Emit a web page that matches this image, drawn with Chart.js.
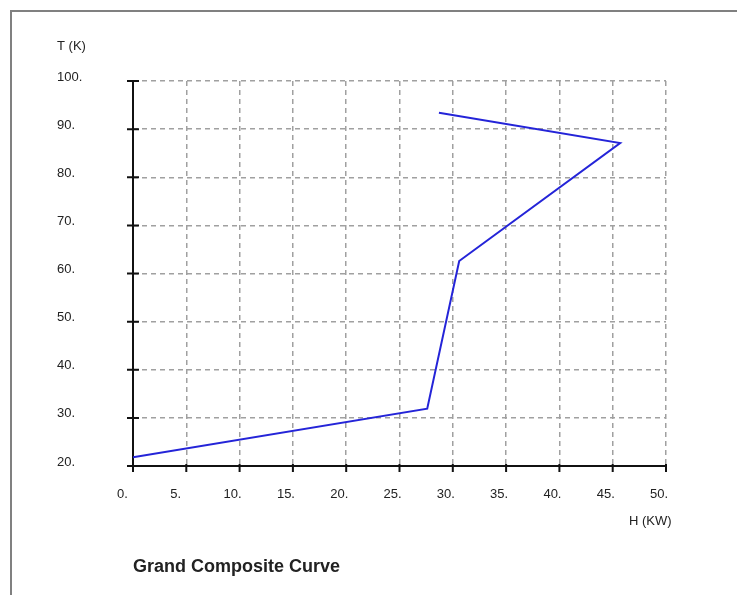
<!DOCTYPE html>
<html><head><meta charset="utf-8">
<script src="https://cdn.jsdelivr.net/npm/chart.js@4"></script>
<style>html,body{margin:0;padding:0;background:#fff;overflow:hidden}#wrap{position:relative;width:737px;height:595px}canvas{display:block}</style>
</head><body><div id="wrap"><canvas id="c" width="737" height="595"></canvas></div>
<script>
const heatFlow = [0, 27.6, 30.6, 45.7, 28.7];
const temperature = [21.8, 31.9, 62.6, 87.1, 93.4];
const xTickValues = [0, 5, 10, 15, 20, 25, 30, 35, 40, 45, 50];
const xTickLabels = ['0.', '5.', '10.', '15.', '20.', '25.', '30.', '35.', '40.', '45.', '50.'];
const yTickValues = [20, 30, 40, 50, 60, 70, 80, 90, 100];
const yTickLabels = ['20.', '30.', '40.', '50.', '60.', '70.', '80.', '90.', '100.'];
const yAxisTitle = 'T (K)';
const xAxisTitle = 'H (KW)';
const chartTitle = 'Grand Composite Curve';

const FONT = '"Liberation Sans", Arial, sans-serif';
const TEXT = '#222222';

const points = heatFlow.map((h, i) => ({x: h, y: temperature[i]}));

const decor = {
  id: 'decor',
  beforeDraw(chart) {
    const ctx = chart.ctx;
    ctx.save();
    ctx.fillStyle = '#ffffff';
    ctx.fillRect(0, 0, chart.width, chart.height);
    ctx.fillStyle = '#808080';
    ctx.fillRect(10, 10, chart.width - 10, 2);
    ctx.fillRect(10, 10, 2, chart.height - 10);
    ctx.restore();
  },
  beforeDatasetsDraw(chart) {
    const ctx = chart.ctx;
    const xs = chart.scales.x, ys = chart.scales.y;
    const a = chart.chartArea;
    ctx.save();
    ctx.strokeStyle = '#111111';
    ctx.lineWidth = 2;
    ctx.setLineDash([]);
    ctx.beginPath();
    ctx.moveTo(a.left, a.top);
    ctx.lineTo(a.left, a.bottom);
    ctx.lineTo(a.right, a.bottom);
    ctx.stroke();
    ctx.beginPath();
    yTickValues.forEach(v => {
      const y = ys.getPixelForValue(v);
      ctx.moveTo(a.left - 6, y);
      ctx.lineTo(a.left + 6, y);
    });
    xTickValues.forEach(v => {
      const x = xs.getPixelForValue(v);
      ctx.moveTo(x, a.bottom - 2);
      ctx.lineTo(x, a.bottom + 6);
    });
    ctx.stroke();
    ctx.restore();
  },
  afterDraw(chart) {
    const ctx = chart.ctx;
    ctx.save();
    ctx.fillStyle = TEXT;
    ctx.textBaseline = 'middle';
    ctx.textAlign = 'left';
    ctx.font = '13px ' + FONT;
    ctx.fillText(yAxisTitle, 57, 46);
    ctx.fillText(xAxisTitle, 629, 521);
    ctx.font = 'bold 18px ' + FONT;
    ctx.fillText(chartTitle, 133, 567);
    ctx.restore();
  }
};

new Chart(document.getElementById('c'), {
  type: 'scatter',
  data: {
    datasets: [{
      data: points,
      showLine: true,
      borderColor: '#2424d8',
      borderWidth: 2,
      pointRadius: 0,
      pointHoverRadius: 0,
      fill: false,
      tension: 0
    }]
  },
  options: {
    responsive: false,
    animation: false,
    events: [],
    layout: {padding: {left: 57, right: 71, top: 81, bottom: 89}},
    plugins: {legend: {display: false}, tooltip: {enabled: false}, title: {display: false}},
    scales: {
      x: {
        type: 'linear', min: 0, max: 50,
        afterBuildTicks: s => { s.ticks = xTickValues.map(v => ({value: v})); },
        afterFit: s => { s.height = 40; },
        ticks: {
          callback: (v, i) => xTickLabels[i],
          align: 'start', labelOffset: -16, padding: 21,
          font: {family: FONT, size: 13}, color: TEXT, maxRotation: 0, autoSkip: false
        },
        grid: {color: '#a0a0a0', lineWidth: 1.5, drawTicks: false},
        border: {display: false, dash: [5, 4]}
      },
      y: {
        type: 'linear', min: 20, max: 100,
        afterBuildTicks: s => { s.ticks = yTickValues.map(v => ({value: v})); },
        afterFit: s => { s.width = 76; },
        ticks: {
          callback: (v, i) => yTickLabels[i],
          crossAlign: 'far', labelOffset: -4, padding: 0,
          font: {family: FONT, size: 13}, color: TEXT, autoSkip: false
        },
        grid: {color: '#a0a0a0', lineWidth: 1.5, drawTicks: false},
        border: {display: false, dash: [5, 4]}
      }
    }
  },
  plugins: [decor]
});
</script>
</body></html>
